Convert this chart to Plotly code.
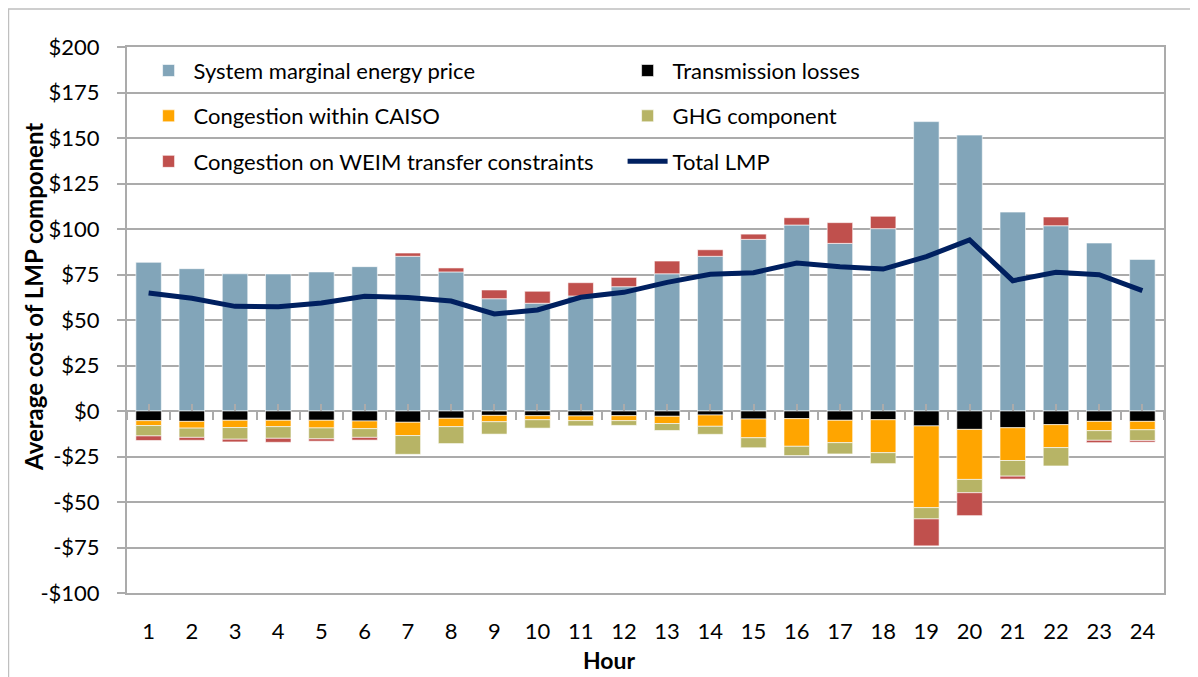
import plotly.graph_objects as go

hours = list(range(1, 25))
hour_labels = [str(h) for h in hours]

smep = [81.7, 78.2, 75.4, 75.3, 76.4, 79.3, 85.0, 76.4, 61.7, 59.2, 63.2, 68.3,
        75.4, 85.0, 94.3, 102.2, 92.1, 100.2, 159.0, 151.6, 109.3, 101.8, 92.3, 83.3]
losses = [-5.3, -5.7, -5.1, -5.1, -5.1, -5.5, -6.2, -4.0, -2.4, -2.6, -2.7, -2.6,
          -2.9, -2.2, -4.4, -4.2, -5.1, -4.8, -8.2, -10.1, -9.2, -7.5, -5.7, -5.7]
caiso = [-2.7, -3.7, -4.0, -3.5, -4.2, -4.2, -7.3, -4.6, -3.5, -2.2, -2.6, -2.7,
         -4.0, -6.2, -10.3, -15.2, -12.3, -18.1, -44.9, -27.5, -18.0, -12.6, -5.1, -4.6]
ghg = [-5.7, -5.1, -6.4, -6.4, -6.0, -4.8, -10.3, -9.3, -6.8, -4.6, -2.9, -2.6,
       -3.8, -4.4, -5.5, -5.1, -6.2, -6.0, -6.2, -7.3, -8.6, -10.1, -5.3, -5.9]
weim = [-2.5, -1.6, -1.5, -2.2, -1.3, -1.5, 1.8, 2.2, 4.8, 6.6, 7.3, 5.1,
        7.0, 3.6, 2.9, 4.0, 11.4, 6.8, -14.8, -12.6, -1.6, 4.8, -1.3, -0.9]
total_lmp = [64.8, 61.9, 57.5, 57.3, 59.3, 63.0, 62.3, 60.4, 53.3, 55.5, 62.5, 65.2,
             70.7, 75.1, 76.0, 81.3, 79.3, 78.0, 84.8, 94.0, 71.6, 76.2, 74.9, 66.1]

y_ticks = [-100, -75, -50, -25, 0, 25, 50, 75, 100, 125, 150, 175, 200]
y_tick_labels = ["-$100", "-$75", "-$50", "-$25", "$0", "$25", "$50", "$75",
                 "$100", "$125", "$150", "$175", "$200"]

FONT = "Lato, 'Open Sans', sans-serif"
GRID = "#ABABAB"
EDGE = "rgba(255,255,255,0.6)"

fig = go.Figure()
fig.add_trace(go.Bar(x=hours, y=smep, name="System marginal energy price",
                     marker=dict(color="#82A5B9", line=dict(color=EDGE, width=1)),
                     legend="legend"))
fig.add_trace(go.Bar(x=hours, y=losses, name="Transmission losses",
                     marker=dict(color="#000000", line=dict(color=EDGE, width=1)),
                     legend="legend"))
fig.add_trace(go.Bar(x=hours, y=caiso, name="Congestion within CAISO",
                     marker=dict(color="#FFA500", line=dict(color=EDGE, width=1)),
                     legend="legend2"))
fig.add_trace(go.Bar(x=hours, y=ghg, name="GHG component",
                     marker=dict(color="#B7B466", line=dict(color=EDGE, width=1)),
                     legend="legend2"))
fig.add_trace(go.Bar(x=hours, y=weim, name="Congestion on WEIM transfer constraints",
                     marker=dict(color="#C0504D", line=dict(color=EDGE, width=1)),
                     legend="legend3"))
fig.add_trace(go.Scatter(x=hours, y=total_lmp, name="Total LMP", mode="lines",
                         line=dict(color="#002060", width=5), legend="legend3"))

# helper axes for tick marks on the zero line
fig.add_trace(go.Scatter(x=[hours[0]], y=[0], xaxis="x2", showlegend=False,
                         mode="markers", marker=dict(opacity=0), hoverinfo="skip"))
fig.add_trace(go.Scatter(x=[hours[0]], y=[0], xaxis="x3", showlegend=False,
                         mode="markers", marker=dict(opacity=0), hoverinfo="skip"))

leg_common = dict(orientation="h", x=0.016, xanchor="left", yanchor="middle",
                  bgcolor="rgba(0,0,0,0)", font=dict(family=FONT, size=22, color="#000000"),
                  entrywidth=424, itemwidth=40, traceorder="normal")

# figure is offset 8px by the page margin; plot area spans page x 127..1164, y 47..593
fig.update_layout(
    width=1190, height=669,
    margin=dict(l=119, r=34, t=39, b=84, autoexpand=False),
    paper_bgcolor="white", plot_bgcolor="white",
    barmode="relative", bargap=0.41,
    font=dict(family=FONT, size=22, color="#000000"),
    legend=dict(**leg_common, y=0.9566),
    legend2=dict(**leg_common, y=0.8736),
    legend3=dict(**leg_common, y=0.7902),
    xaxis=dict(range=[0.5, 24.5], tickmode="array", tickvals=hours, ticktext=hour_labels,
               showgrid=False, zeroline=False, showline=True, linecolor=GRID, linewidth=2,
               mirror=True, ticks="", ticklabelstandoff=18),
    xaxis2=dict(range=[0.5, 24.5], overlaying="x", anchor="free", position=1/3,
                side="bottom", tickmode="linear", tick0=0.5, dtick=1, ticks="outside",
                ticklen=8, tickwidth=2, tickcolor=GRID, showticklabels=False,
                showgrid=False, zeroline=False, showline=False),
    xaxis3=dict(range=[0.5, 24.5], overlaying="x", anchor="free", position=1/3,
                side="bottom", tickmode="linear", tick0=1, dtick=1, ticks="inside",
                ticklen=7, tickwidth=2, tickcolor=GRID, showticklabels=False,
                showgrid=False, zeroline=False, showline=False),
    yaxis=dict(range=[-100, 200], tickmode="array", tickvals=y_ticks, ticktext=y_tick_labels,
               showgrid=True, gridcolor=GRID, gridwidth=2, zeroline=True,
               zerolinecolor=GRID, zerolinewidth=2, showline=True, linecolor=GRID,
               linewidth=2, mirror=True, ticks="outside", ticklen=8, tickwidth=2,
               tickcolor=GRID, ticklabelstandoff=13),
    annotations=[
        dict(text="<b>Average cost of LMP component</b>", xref="paper", yref="paper",
             x=-0.0907, y=0.542, textangle=-90, showarrow=False,
             xanchor="center", yanchor="middle", font=dict(family=FONT, size=24)),
        dict(text="<b>Hour</b>", xref="paper", yref="paper",
             x=0.465, y=-0.123, showarrow=False,
             xanchor="center", yanchor="middle", font=dict(family=FONT, size=23)),
    ],
    shapes=[dict(type="rect", xref="paper", yref="paper",
                 x0=-0.1143, x1=1.028, y0=-0.17, y1=1.0696,
                 line=dict(color="#BFBFBF", width=1.5), fillcolor="rgba(0,0,0,0)",
                 layer="below")],
    showlegend=True,
)

fig.write_html("out.html")
